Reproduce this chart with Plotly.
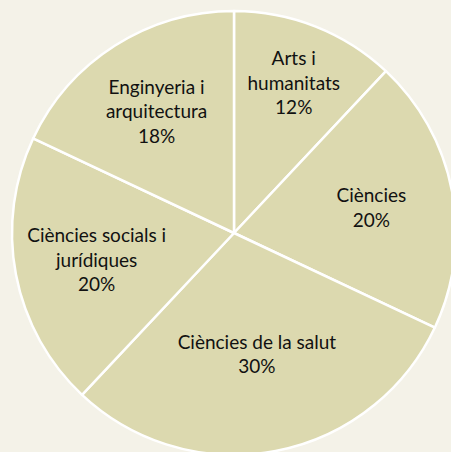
import plotly.graph_objects as go

categories = ["Arts i<br>humanitats", "Ciències", "Ciències de la salut",
              "Ciències socials i<br>jurídiques", "Enginyeria i<br>arquitectura"]
values = [12, 20, 30, 20, 18]

W, H = 460, 460

fig = go.Figure(go.Pie(
    labels=categories,
    values=values,
    sort=False,
    direction="clockwise",
    rotation=0,
    texttemplate="%{label}<br>%{percent:.0%}",
    textposition="inside",
    insidetextorientation="horizontal",
    marker=dict(colors=["#DCD9AF"] * 5, line=dict(color="#FFFFFF", width=2.5)),
    textfont=dict(family="Lato", size=19, color="#111111"),
    hoverinfo="skip",
    showlegend=False,
    domain=dict(x=[12 / W, 456 / W], y=[1 - 455 / H, 1 - 11 / H]),
))
fig.update_layout(
    width=W, height=H,
    margin=dict(l=0, r=0, t=0, b=0),
    paper_bgcolor="#F4F2E8",
    plot_bgcolor="#F4F2E8",
    showlegend=False,
    uniformtext=dict(minsize=19, mode="show"),
)
fig.write_html(
    "out.html",
    config={"displayModeBar": False, "staticPlot": True},
    post_script=(
        "document.documentElement.style.overflow='hidden';"
        "document.body.style.overflow='hidden';"
        "document.body.style.margin='0';"
        "document.body.style.background='#F4F2E8';"
    ),
)
